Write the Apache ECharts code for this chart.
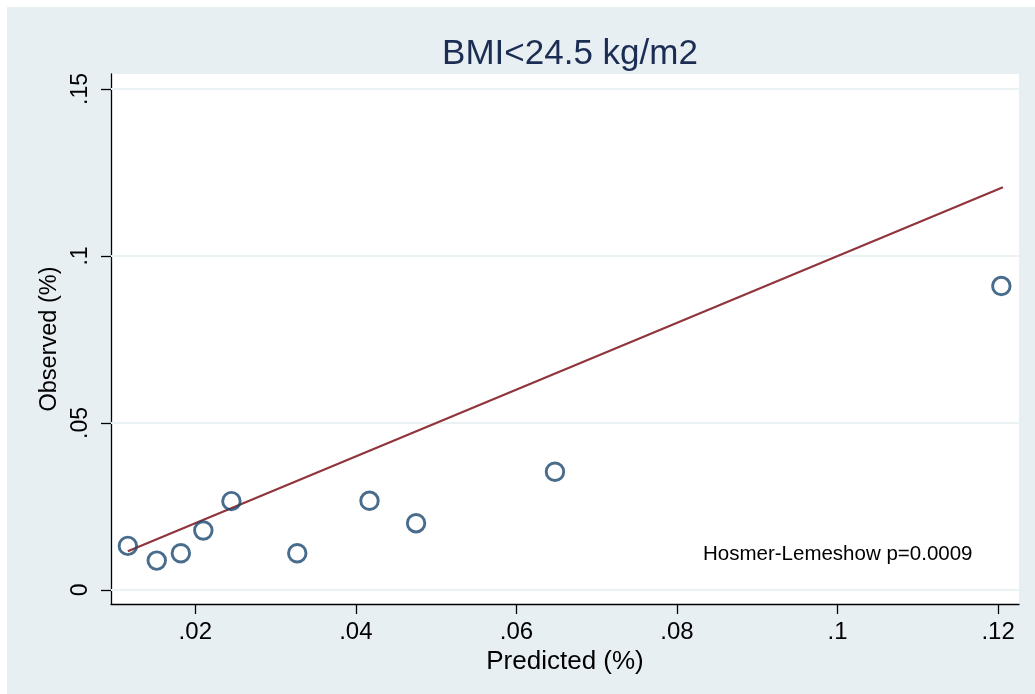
<!DOCTYPE html>
<html>
<head>
<meta charset="utf-8">
<script src="https://cdn.jsdelivr.net/npm/echarts@6/dist/echarts.min.js"></script>
<style>
html,body{margin:0;padding:0;background:#ffffff;}
#chart{width:1035px;height:694px;}
</style>
</head>
<body>
<div id="chart"></div>
<script>
// Data
const predicted = [0.0116, 0.0152, 0.0182, 0.0210, 0.0245, 0.0327, 0.0417, 0.0475, 0.0648, 0.1204];
const observed  = [0.0132, 0.0088, 0.0110, 0.0178, 0.0266, 0.0110, 0.0267, 0.0200, 0.0354, 0.0910];
const refLineX  = [0.0116, 0.1206];
const xTicks = [0.02, 0.04, 0.06, 0.08, 0.10, 0.12];
const xTickLabels = ['.02', '.04', '.06', '.08', '.1', '.12'];
const yTicks = [0, 0.05, 0.10, 0.15];
const yTickLabels = ['0', '.05', '.1', '.15'];
const titleText = 'BMI<24.5 kg/m2';
const xName = 'Predicted (%)';
const yName = 'Observed (%)';
const noteText = 'Hosmer-Lemeshow p=0.0009';

const font = '"Liberation Sans", Arial, sans-serif';
const points = predicted.map((p, i) => [p, observed[i]]);
const lineData = refLineX.map(v => [v, v]);
const lab = (vals, labels) => v => {
  for (let i = 0; i < vals.length; i++) if (Math.abs(vals[i] - v) < 1e-9) return labels[i];
  return '';
};

const chart = echarts.init(document.getElementById('chart'), null, {renderer: 'canvas'});
chart.setOption({
  animation: false,
  backgroundColor: '#e8eff2',
  title: {
    text: titleText, left: 565, top: 32, textAlign: 'center',
    textStyle: {fontFamily: font, fontSize: 35, fontWeight: 'normal', color: '#1c2d54'}
  },
  graphic: [
    {type: 'rect', left: 0, top: 0, shape: {width: 1035, height: 7}, style: {fill: '#ffffff'}, silent: true},
    {type: 'rect', left: 0, top: 0, shape: {width: 7, height: 694}, style: {fill: '#ffffff'}, silent: true},
    {type: 'text', left: 703, top: 544, z: 10,
     style: {text: noteText, font: '20.5px ' + font, fill: '#000000'}}
  ],
  grid: {
    left: 111, right: 16, top: 74, bottom: 90,
    show: true, backgroundColor: '#ffffff', borderWidth: 0, containLabel: false
  },
  xAxis: {
    type: 'value', min: 0.0095, max: 0.1226,
    name: xName, nameLocation: 'middle', nameGap: 42,
    nameTextStyle: {fontFamily: font, fontSize: 26, color: '#000'},
    axisLine: {show: true, onZero: false, lineStyle: {color: '#000', width: 1.3}},
    axisTick: {show: true, customValues: xTicks, length: 10, lineStyle: {color: '#000', width: 1.3}},
    axisLabel: {show: true, customValues: xTicks, formatter: lab(xTicks, xTickLabels), margin: 16,
      fontFamily: font, fontSize: 24, color: '#000'},
    splitLine: {show: false}
  },
  yAxis: {
    type: 'value', min: -0.0042, max: 0.1545,
    name: yName, nameLocation: 'middle', nameGap: 47, nameRotate: 90,
    nameTextStyle: {fontFamily: font, fontSize: 23.5, color: '#000'},
    axisLine: {show: true, onZero: false, lineStyle: {color: '#000', width: 1.3}},
    axisTick: {show: true, customValues: yTicks, length: 10, lineStyle: {color: '#000', width: 1.3}},
    axisLabel: {show: true, customValues: yTicks, formatter: lab(yTicks, yTickLabels), margin: 19, rotate: 90,
      fontFamily: font, fontSize: 23, color: '#000'},
    splitLine: {show: false}
  },
  series: [
    {
      type: 'line', data: lineData, symbol: 'none', z: 3,
      lineStyle: {color: '#90353b', width: 2.2},
      markLine: {
        silent: true, symbol: ['none', 'none'], label: {show: false},
        lineStyle: {color: '#eaf2f3', width: 2, type: 'solid'},
        data: yTicks.map(v => ({yAxis: v})), z: 1
      }
    },
    {
      type: 'scatter', data: points, symbol: 'circle', symbolSize: 17.5, z: 4,
      itemStyle: {color: 'rgba(255,255,255,0)', borderColor: '#1a476f', borderWidth: 2.9}
    }
  ]
});
</script>
</body>
</html>
